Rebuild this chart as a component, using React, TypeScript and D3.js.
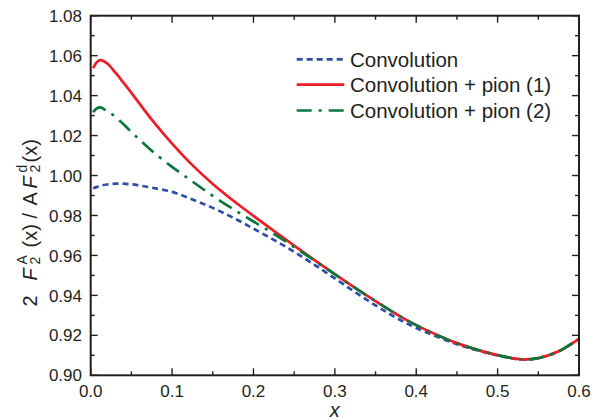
import React from "react";
import * as d3 from "d3";

const xValues = [0.003, 0.007, 0.012, 0.02, 0.03, 0.04, 0.05, 0.06, 0.075, 0.1, 0.125, 0.15, 0.175, 0.2, 0.225, 0.25, 0.275, 0.3, 0.325, 0.35, 0.375, 0.4, 0.45, 0.5, 0.53, 0.55, 0.575, 0.6];
const convolution = [0.9936, 0.9942, 0.9949, 0.9955, 0.9959, 0.9959, 0.9956, 0.995, 0.9939, 0.9918, 0.988, 0.9838, 0.9789, 0.9734, 0.9678, 0.9618, 0.9553, 0.9485, 0.9416, 0.935, 0.9289, 0.9237, 0.9156, 0.9099, 0.9079, 0.9086, 0.912, 0.9183];
const pion1 = [1.0537, 1.0565, 1.0578, 1.0562, 1.0517, 1.0466, 1.0414, 1.036, 1.028, 1.016, 1.0052, 0.9958, 0.9875, 0.9798, 0.9723, 0.9649, 0.9577, 0.9506, 0.9437, 0.9371, 0.9308, 0.9251, 0.9161, 0.9101, 0.908, 0.9086, 0.912, 0.9183];
const pion2 = [1.0317, 1.0335, 1.0341, 1.0322, 1.0295, 1.0258, 1.0218, 1.018, 1.0124, 1.0043, 0.997, 0.9898, 0.9832, 0.977, 0.9708, 0.9642, 0.9574, 0.9505, 0.9437, 0.9371, 0.9308, 0.9251, 0.9161, 0.9101, 0.908, 0.9086, 0.912, 0.9183];

const xTicks = [0.0, 0.1, 0.2, 0.3, 0.4, 0.5, 0.6];
const xMinorTicks = [0.05, 0.15, 0.25, 0.35, 0.45, 0.55];
const yTicks = [0.9, 0.92, 0.94, 0.96, 0.98, 1.0, 1.02, 1.04, 1.06, 1.08];
const yMinorTicks = [0.91, 0.93, 0.95, 0.97, 0.99, 1.01, 1.03, 1.05, 1.07];

const seriesNames = ["Convolution", "Convolution + pion (1)", "Convolution + pion (2)"];
const seriesColors = ["#2d4fa5", "#ee1d25", "#07793d"];
const seriesDash = ["6,4", "none", "15,7,3,7"];

const W = 611;
const H = 420;
const M = { left: 90.7, right: 579, top: 15.7, bottom: 375.3 };
const FONT = "'Liberation Sans', Arial, Helvetica, sans-serif";
const AX = "#231f20";

export default function App() {
  const x = d3.scaleLinear().domain([0, 0.6]).range([M.left, M.right]);
  const y = d3.scaleLinear().domain([0.9, 1.08]).range([M.bottom, M.top]);
  const line = d3
    .line<[number, number]>()
    .x((d) => x(d[0]))
    .y((d) => y(d[1]))
    .curve(d3.curveCatmullRom.alpha(0.5));
  const all = [convolution, pion1, pion2];
  const paths = all.map((vals) => line(xValues.map((xv, i) => [xv, vals[i]] as [number, number])) || "");

  const maj = 7;
  const min = 4;
  const legX0 = 296.7;
  const legX1 = 344.3;
  const legY = [59.3, 84.7, 110.5];

  return (
    <svg width={W} height={H} style={{ position: "absolute", left: 0, top: 0, background: "#fff" }} fontFamily={FONT}>
      <rect x={0} y={0} width={W} height={H} fill="#fff" />
      <defs>
        <clipPath id="plotclip">
          <rect x={M.left} y={M.top} width={M.right - M.left} height={M.bottom - M.top} />
        </clipPath>
      </defs>
      <g clipPath="url(#plotclip)">
        {paths.map((p, i) => (
          <path key={i} d={p} fill="none" stroke={seriesColors[i]} strokeWidth={2.7} strokeDasharray={seriesDash[i]} />
        ))}
      </g>
      <g stroke={AX} strokeWidth={1.4}>
        {xTicks.map((t) => (
          <g key={"xt" + t}>
            <line x1={x(t)} x2={x(t)} y1={M.bottom} y2={M.bottom - maj} />
            <line x1={x(t)} x2={x(t)} y1={M.top} y2={M.top + maj} />
          </g>
        ))}
        {xMinorTicks.map((t) => (
          <g key={"xm" + t}>
            <line x1={x(t)} x2={x(t)} y1={M.bottom} y2={M.bottom - min} />
            <line x1={x(t)} x2={x(t)} y1={M.top} y2={M.top + min} />
          </g>
        ))}
        {yTicks.map((t) => (
          <g key={"yt" + t}>
            <line x1={M.left} x2={M.left + maj} y1={y(t)} y2={y(t)} />
            <line x1={M.right} x2={M.right - maj} y1={y(t)} y2={y(t)} />
          </g>
        ))}
        {yMinorTicks.map((t) => (
          <g key={"ym" + t}>
            <line x1={M.left} x2={M.left + min} y1={y(t)} y2={y(t)} />
            <line x1={M.right} x2={M.right - min} y1={y(t)} y2={y(t)} />
          </g>
        ))}
      </g>
      <rect x={M.left} y={M.top} width={M.right - M.left} height={M.bottom - M.top} fill="none" stroke={AX} strokeWidth={2} />
      <g fontSize={17} fill={AX}>
        {xTicks.map((t) => (
          <text key={"xl" + t} x={x(t)} y={397} textAnchor="middle">
            {d3.format(".1f")(t)}
          </text>
        ))}
        {yTicks.map((t) => (
          <text key={"yl" + t} x={82} y={y(t)} dy="0.36em" textAnchor="end">
            {d3.format(".2f")(t)}
          </text>
        ))}
      </g>
      <text x={(M.left + M.right) / 2} y={417} textAnchor="middle" fontSize={20} fontStyle="italic" fill={AX}>
        x
      </text>
      <g transform="translate(37,306.5) rotate(-90)" fill={AX} fontSize={20}>
        <text x={0} y={0}>2</text>
        <text x={26} y={0} fontStyle="italic">F</text>
        <text x={42} y={3} fontSize={14}>2</text>
        <text x={42} y={-10} fontSize={14}>A</text>
        <text x={59} y={0}>(x)</text>
        <text x={88} y={0}>/</text>
        <text x={101} y={0}>A</text>
        <text x={118} y={0} fontStyle="italic">F</text>
        <text x={134} y={3} fontSize={14}>2</text>
        <text x={134} y={-10} fontSize={14}>d</text>
        <text x={144} y={0}>(x)</text>
      </g>
      {seriesNames.map((n, i) => (
        <g key={n}>
          <line x1={legX0} x2={legX1} y1={legY[i]} y2={legY[i]} stroke={seriesColors[i]} strokeWidth={2.7} strokeDasharray={seriesDash[i]} />
          <text x={350} y={legY[i]} dy="0.36em" fontSize={20.5} fill={AX}>
            {n}
          </text>
        </g>
      ))}
    </svg>
  );
}
